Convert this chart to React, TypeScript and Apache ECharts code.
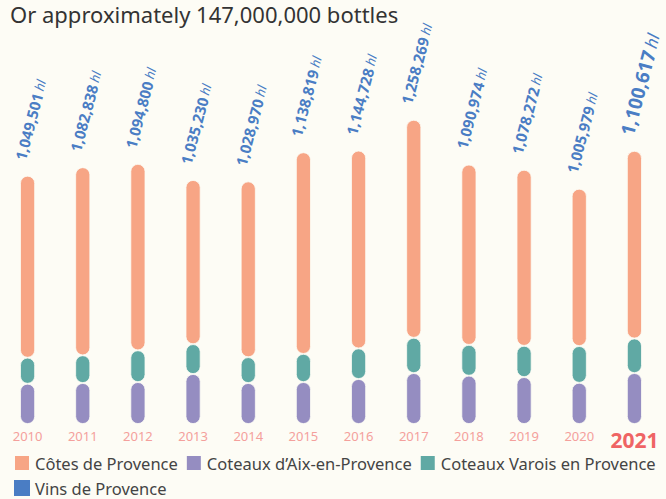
import React, { useEffect, useRef } from "react";
import * as echarts from "echarts";

const years = ["2010", "2011", "2012", "2013", "2014", "2015", "2016", "2017", "2018", "2019", "2020", "2021"];
const totals = [1049501, 1082838, 1094800, 1035230, 1028970, 1138819, 1144728, 1258269, 1090974, 1078272, 1005979, 1100617];
const cotesProvence = [768000, 794000, 787000, 693000, 742000, 851000, 835000, 920000, 761000, 743000, 664000, 792000];
const coteauxAix = [170000, 173000, 177000, 211000, 173000, 177000, 190000, 215000, 204000, 198000, 174000, 215000];
const coteauxVarois = [110000, 117000, 134000, 126000, 109000, 119000, 129000, 149000, 130000, 132000, 155000, 146000];
const vinsProvence = [0, 0, 0, 0, 0, 0, 0, 0, 0, 0, 0, 0];

const FONT = "Noto Sans";
const BG = "#fdfcf5";
const BLUE = "#4a7dc4";

function fmt(n: number) {
  return n.toLocaleString("en-US");
}

export default function App() {
  const ref = useRef<HTMLDivElement>(null);
  useEffect(() => {
    document.body.style.margin = "0";
    document.body.style.background = BG;
    if (!ref.current) return;
    const chart = echarts.init(ref.current, null, { renderer: "svg" });
    const bar = (name: string, data: number[], color: string, extra: any = {}) => ({
      name,
      type: "bar",
      stack: "total",
      data,
      barWidth: 15,
      itemStyle: { color, borderRadius: 8, borderColor: BG, borderWidth: 0.8 },
      ...extra,
    });
    chart.setOption({
      animation: false,
      backgroundColor: BG,
      textStyle: { fontFamily: FONT },
      title: {
        text: "Or approximately 147,000,000 bottles",
        left: 5,
        top: -2,
        textStyle: { fontFamily: FONT, fontSize: 22, fontWeight: "normal", color: "#333" },
      },
      grid: { left: -5, right: 4, top: 45, bottom: 75, containLabel: false },
      xAxis: {
        type: "category",
        data: years,
        axisLine: { show: false },
        axisTick: { show: false },
        axisLabel: {
          interval: 0,
          margin: 5,
          formatter: (v: string) => (v === "2021" ? `{b|${v}}` : `{a|${v}}`),
          rich: {
            a: { fontFamily: FONT, fontSize: 13, color: "#f4a09c" },
            b: { fontFamily: FONT, fontSize: 21, fontWeight: "bold", color: "#ef6464" },
          },
        },
      },
      yAxis: { type: "value", min: 0, max: 1600000, show: false, splitLine: { show: false } },
      legend: {
        left: 8,
        top: 449,
        width: 660,
        icon: "rect",
        itemWidth: 16,
        itemHeight: 16,
        itemGap: 7,
        textStyle: { fontFamily: FONT, fontSize: 16.5, lineHeight: 14, color: "#444" },
        data: ["Côtes de Provence", "Coteaux d’Aix-en-Provence", "Coteaux Varois en Provence", "Vins de Provence"],
      },
      series: [
        bar("Coteaux d’Aix-en-Provence", coteauxAix, "#958dc1"),
        bar("Coteaux Varois en Provence", coteauxVarois, "#60a9a4"),
        bar("Côtes de Provence", cotesProvence, "#f7a585", {
          label: {
            show: true,
            position: "top",
            rotate: 75,
            align: "left",
            verticalAlign: "middle",
            distance: 14,
            offset: [0, -8],
            formatter: (p: any) => {
              const t = fmt(totals[p.dataIndex]);
              return p.dataIndex === years.length - 1 ? `{n2|${t}} {h2|hl}` : `{n|${t}} {h|hl}`;
            },
            rich: {
              n: { fontFamily: FONT, fontSize: 15, fontWeight: "bold", color: BLUE },
              h: { fontFamily: FONT, fontSize: 13, fontStyle: "italic", color: BLUE },
              n2: { fontFamily: FONT, fontSize: 19, fontWeight: "bold", color: BLUE },
              h2: { fontFamily: FONT, fontSize: 17, fontStyle: "italic", color: BLUE },
            },
          },
        }),
        bar("Vins de Provence", vinsProvence, BLUE, { itemStyle: { color: BLUE, borderWidth: 0 } }),
      ],
    });
    return () => chart.dispose();
  }, []);
  return <div ref={ref} style={{ width: 666, height: 499 }} />;
}
